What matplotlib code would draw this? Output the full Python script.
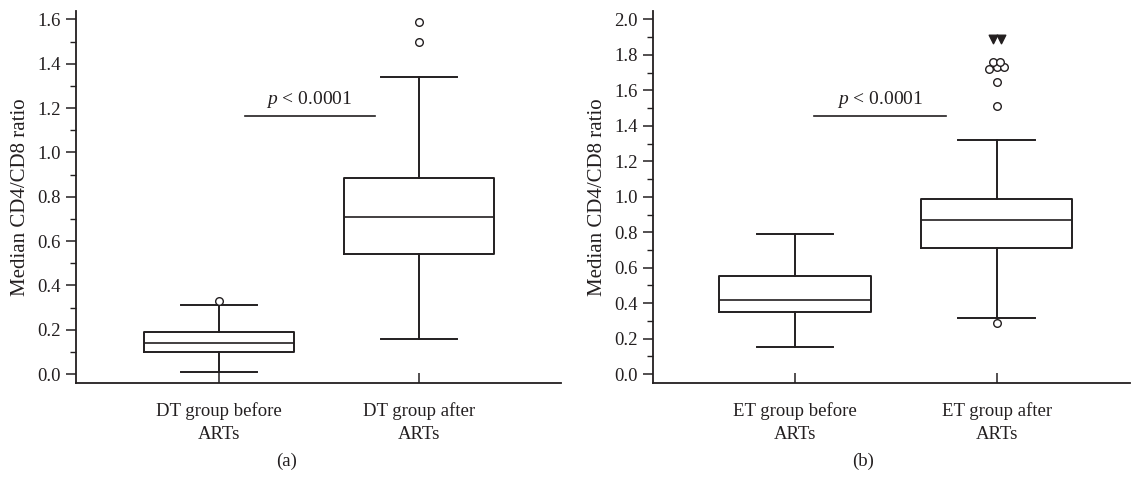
import matplotlib
matplotlib.use("Agg")
import matplotlib.pyplot as plt

plt.rcParams["font.family"] = ["Liberation Serif", "DejaVu Serif"]
plt.rcParams["font.size"] = 13.5
plt.rcParams["mathtext.fontset"] = "custom"
plt.rcParams["mathtext.rm"] = "Liberation Serif"
plt.rcParams["mathtext.it"] = "Liberation Serif:italic"

# panel (a): DT group
dt_labels = ["DT group before\nARTs", "DT group after\nARTs"]
dt_q1 = [0.10, 0.542]
dt_med = [0.14, 0.71]
dt_q3 = [0.19, 0.886]
dt_whislo = [0.01, 0.16]
dt_whishi = [0.31, 1.34]
dt_fliers = [[0.33], [1.50, 1.59]]

# panel (b): ET group
et_labels = ["ET group before\nARTs", "ET group after\nARTs"]
et_q1 = [0.352, 0.71]
et_med = [0.418, 0.872]
et_q3 = [0.554, 0.989]
et_whislo = [0.153, 0.318]
et_whishi = [0.79, 1.322]
# outliers of the second ET box, with their small horizontal jitter
et_out_y = [0.286, 1.514, 1.65, 1.72, 1.73, 1.73, 1.76, 1.76]
et_out_dx = [0.0, 0.0, 0.0, -0.036, 0.0, 0.039, -0.018, 0.018]
et_far_y = [1.887, 1.887]
et_far_dx = [-0.018, 0.022]

LINE = "#231f20"


def stats(q1, med, q3, lo, hi, fliers):
    out = []
    for i in range(len(q1)):
        out.append({"q1": q1[i], "med": med[i], "q3": q3[i],
                    "whislo": lo[i], "whishi": hi[i], "fliers": fliers[i]})
    return out


def draw(ax, st, labels, ylim, ymax_tick, xlim, pline, ptext):
    props = dict(color=LINE, linewidth=1.4)
    ax.bxp(st, positions=[1, 2], widths=0.75, capwidths=0.38,
           boxprops=props, whiskerprops=props, capprops=props,
           medianprops=dict(color=LINE, linewidth=1.2),
           flierprops=dict(marker="o", markersize=5.5, markerfacecolor="white",
                           markeredgecolor=LINE, markeredgewidth=1.0),
           showfliers=True)
    ax.set_xlim(*xlim)
    ax.set_ylim(*ylim)
    ax.set_xticks([1, 2])
    ax.set_xticklabels(labels, linespacing=1.4)
    n = int(round(ymax_tick / 0.2))
    ax.set_yticks([0.2 * k for k in range(n + 1)])
    ax.set_yticks([0.1 * k for k in range(2 * n + 1)], minor=True)
    ax.yaxis.set_major_formatter(matplotlib.ticker.FormatStrFormatter("%.1f"))
    ax.set_ylabel("Median CD4/CD8 ratio", fontsize=15, labelpad=5)
    for s in ["top", "right"]:
        ax.spines[s].set_visible(False)
    for s in ["left", "bottom"]:
        ax.spines[s].set_linewidth(1.3)
        ax.spines[s].set_color(LINE)
    ax.tick_params(axis="y", which="major", direction="out", length=7, width=1.1, colors=LINE, pad=4)
    ax.tick_params(axis="y", which="minor", direction="out", length=4, width=1.0, colors=LINE)
    ax.tick_params(axis="x", which="major", direction="in", length=7, width=1.1, colors=LINE, pad=14)
    for t in ax.get_xticklabels() + ax.get_yticklabels():
        t.set_color(LINE)
    ax.yaxis.label.set_color(LINE)
    ax.plot(pline[0], [pline[1], pline[1]], color=LINE, linewidth=1.2)
    ax.text(ptext[0], ptext[1], r"$p$ < 0.0001", ha="center", va="bottom",
            color=LINE, fontsize=14)


fig = plt.figure(figsize=(11.32, 4.8), dpi=100)
ax1 = fig.add_axes([0.067, 0.202, 0.429, 0.776])
ax2 = fig.add_axes([0.577, 0.202, 0.421, 0.776])

draw(ax1, stats(dt_q1, dt_med, dt_q3, dt_whislo, dt_whishi, dt_fliers), dt_labels,
     (-0.04, 1.64), 1.6, (0.284, 2.71), ([1.13, 1.78], 1.166), (1.45, 1.19))

draw(ax2, stats(et_q1, et_med, et_q3, et_whislo, et_whishi, [[], []]), et_labels,
     (-0.05, 2.05), 2.0, (0.297, 2.66), ([1.094, 1.75], 1.458), (1.42, 1.49))
ax2.scatter([2 + d for d in et_out_dx], et_out_y, s=30, facecolor="white",
            edgecolor=LINE, linewidth=1.0, zorder=3)
ax2.scatter([2 + d for d in et_far_dx], et_far_y, s=38, marker="v", color=LINE,
            zorder=3)

fig.text(0.2535, 0.038, "(a)", ha="center", va="center", color=LINE, fontsize=13.5)
fig.text(0.762, 0.038, "(b)", ha="center", va="center", color=LINE, fontsize=13.5)

fig.savefig("out.png", dpi=100)
